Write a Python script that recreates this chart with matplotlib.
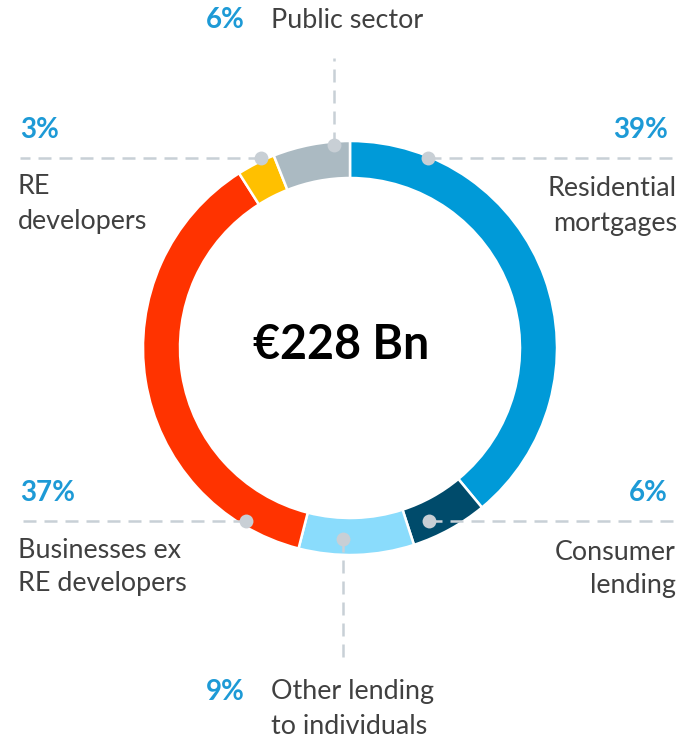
import matplotlib
matplotlib.use("Agg")
import matplotlib.pyplot as plt

# ---- data ----
categories = ["Residential\nmortgages", "Consumer\nlending", "Other lending\nto individuals",
              "Businesses ex\nRE developers", "RE\ndevelopers", "Public sector"]
shares = [39, 6, 9, 37, 3, 6]
colors = ["#009AD8", "#004B6B", "#8ADCFC", "#FF3300", "#FFC000", "#ABBAC2"]
total_label = "€228 Bn"

# ---- layout (image pixel coords, y down) ----
W, H = 679, 739
cx, cy, R, ring = 350, 348, 207, 37
pct_color = "#1D9AD6"
txt_color = "#404040"
line_color = "#C8D0D6"
dot_color = "#C8CFD5"
plt.rcParams['font.family'] = ['Lato', 'DejaVu Sans']

fig = plt.figure(figsize=(W / 100, H / 100), dpi=100)
ax = fig.add_axes([0, 0, 1, 1])
ax.pie(shares, colors=colors, startangle=-90, counterclock=True, center=(cx, cy), radius=R,
       wedgeprops=dict(width=ring, edgecolor="white", linewidth=1.8))
ax.set_xlim(0, W)
ax.set_ylim(H, 0)
ax.set_aspect("equal")
ax.axis("off")

ls = (0, (5.2, 3.2))
lw = 1.8
# connector lines: (x0, y0, x1, y1), dot at (x0, y0)
connectors = [
    (428, 158, 680, 158),   # residential
    (429, 521, 680, 521),   # consumer
    (343, 539, 343, 662),   # other lending
    (246, 521, 18, 521),    # businesses
    (261, 158, 20, 158),    # RE developers
    (334, 145, 334, 58),    # public sector
]
for x0, y0, x1, y1 in connectors:
    ax.plot([x0, x1], [y0, y1], color=line_color, lw=lw, linestyle=ls, zorder=3,
            solid_capstyle="butt", dash_capstyle="butt")
    ax.plot([x0], [y0], marker="o", ms=10, color=dot_color, mec="none", zorder=4)

pct_fs = 20
lab_fs = 19.4
# percent labels: (x, y, ha)
pct_pos = [(668, 130, "right"), (668, 493, "right"), (245, 692, "right"),
           (20, 493, "left"), (20, 130, "left"), (245, 20, "right")]
lab_pos = [(677, 206, "right"), (676, 569, "right"), (271, 709, "left"),
           (18, 567, "left"), (18, 204, "left"), (271, 21, "left")]
for i in range(len(shares)):
    x, y, ha = pct_pos[i]
    ax.text(x, y, f"{shares[i]}%", color=pct_color, fontsize=pct_fs, fontweight="bold",
            ha=ha, va="center")
    x, y, ha = lab_pos[i]
    ax.text(x, y, categories[i], color=txt_color, fontsize=lab_fs, ha=ha, va="center",
            multialignment=ha, linespacing=1.45)

ax.text(341, 345, total_label, fontsize=33.5, fontweight="bold", color="black",
        ha="center", va="center")

fig.savefig("out.png", dpi=100)
